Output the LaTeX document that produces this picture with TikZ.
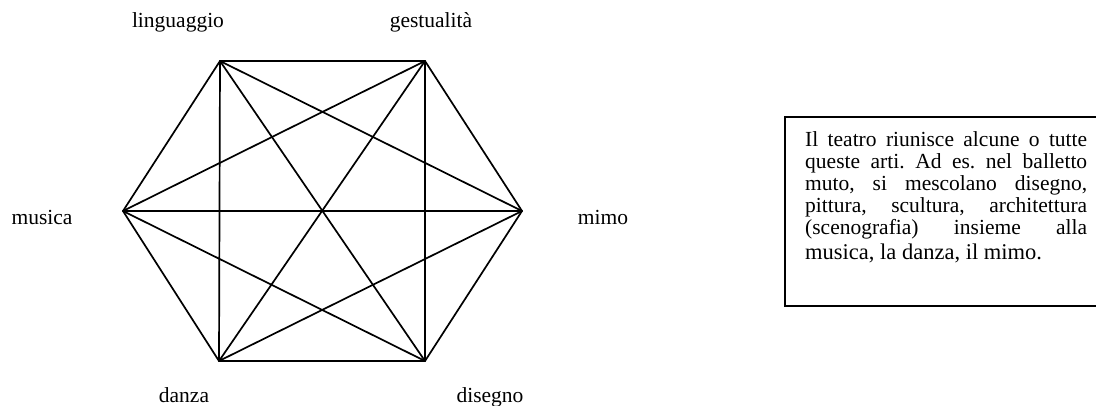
\documentclass[tikz,border=0pt]{standalone}
\usepackage{fontspec}
\setmainfont{Liberation Serif}
\begin{document}
\frenchspacing
\begin{tikzpicture}[x=1pt,y=-1pt,
  lbl/.style={inner sep=0pt,anchor=base,font=\fontsize{21.5}{25}\selectfont},
  edge/.style={line width=1.7pt,line cap=round,line join=round},
  boxline/.style={inner sep=0pt,anchor=base west,font=\fontsize{21.5}{25}\selectfont}]
\useasboundingbox (0,0) rectangle (1096,405);
\clip (0,0) rectangle (1096,405);
% vertices
\coordinate (L) at (220,61);
\coordinate (G) at (425,61);
\coordinate (Mi) at (522,211);
\coordinate (Di) at (425,361);
\coordinate (Da) at (219,361);
\coordinate (Mu) at (123,211);
% hexagon edges
\draw[edge] (L) -- (G) -- (Mi) -- (Di) -- (Da) -- (Mu) -- cycle;
% short diagonals
\draw[edge] (L) -- (Mi);
\draw[edge] (G) -- (Di);
\draw[edge] (Mi) -- (Da);
\draw[edge] (Di) -- (Mu);
\draw[edge] (Da) -- (L);
\draw[edge] (Mu) -- (G);
% long diagonals
\draw[edge] (L) -- (Di);
\draw[edge] (G) -- (Da);
\draw[edge] (Mu) -- (Mi);
% labels
\node[lbl] (tL) at (178,27) {linguaggio};
\node[lbl] (tG) at (431,27) {gestualità};
\node[lbl] (tMu) at (42,224) {musica};
\node[lbl] (tMi) at (603,224) {mimo};
\node[lbl] (tDa) at (184,402) {danza};
\node[lbl] (tDi) at (490,402) {disegno};
% text box
\draw[line width=1.7pt] (1110,117) -- (785,117) -- (785,306) -- (1110,306);
\node[boxline] (b1) at (805,146) {\makebox[282pt][s]{Il teatro riunisce alcune o tutte}};
\node[boxline] (b2) at (805,168) {\makebox[282pt][s]{queste arti. Ad es. nel balletto}};
\node[boxline] (b3) at (805,190) {\makebox[282pt][s]{muto, si mescolano disegno,}};
\node[boxline] (b4) at (805,212) {\makebox[282pt][s]{pittura, scultura, architettura}};
\node[boxline] (b5) at (805,234) {\makebox[282pt][s]{(scenografia) insieme alla}};
\node[boxline,font=\fontsize{22.5}{26}\selectfont] (b6) at (805,259) {musica, la danza, il mimo.};
\end{tikzpicture}
\end{document}
